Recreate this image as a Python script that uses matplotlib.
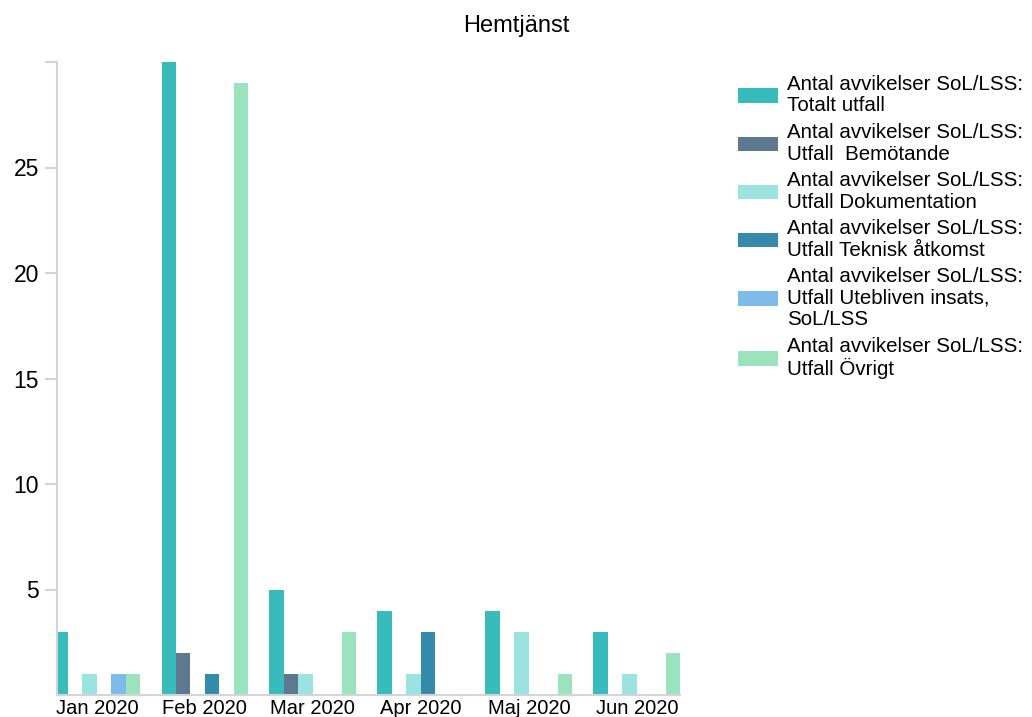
import numpy as np
import matplotlib
matplotlib.use("Agg")
import matplotlib.pyplot as plt

plt.rcParams['font.family'] = ['Liberation Sans', 'DejaVu Sans']

# ==================== DATA ====================
months = ["Jan 2020", "Feb 2020", "Mar 2020", "Apr 2020", "Maj 2020", "Jun 2020"]

totalt = [3, 30, 5, 4, 4, 3]
bemotande = [0, 2, 1, 0, 0, 0]
dokumentation = [1, 0, 1, 1, 3, 1]
teknisk = [0, 1, 0, 3, 0, 0]
utebliven = [1, 0, 0, 0, 0, 0]
ovrigt = [1, 29, 3, 0, 1, 2]

labels = [
    "Antal avvikelser SoL/LSS:\nTotalt utfall",
    "Antal avvikelser SoL/LSS:\nUtfall  Bemötande",
    "Antal avvikelser SoL/LSS:\nUtfall Dokumentation",
    "Antal avvikelser SoL/LSS:\nUtfall Teknisk åtkomst",
    "Antal avvikelser SoL/LSS:\nUtfall Utebliven insats,\nSoL/LSS",
    "Antal avvikelser SoL/LSS:\nUtfall Övrigt",
]
colors = ["#37BBBB", "#5E788F", "#9BE3DE", "#348AAA", "#7FBBE8", "#9AE3BE"]

series = [totalt, bemotande, dokumentation, teknisk, utebliven, ovrigt]

# ==================== PLOT ====================
fig = plt.figure(figsize=(10.32, 7.17), dpi=100)
ax = fig.add_axes([57 / 1032, 1 - 695 / 717, (680 - 57) / 1032, (695 - 62) / 717])

x = np.arange(len(months))
w = 0.134
for i, (vals, lab, col) in enumerate(zip(series, labels, colors)):
    ax.bar(x + (i - 2.5) * w, vals, w, color=col, label=lab, linewidth=0)

ax.set_xlim(-0.37, 5.4)
ax.set_ylim(0, 30)
ax.set_yticks([5, 10, 15, 20, 25, 30])
ax.set_yticklabels(["5", "10", "15", "20", "25", ""])
ax.set_xticks(x)
ax.set_xticklabels(months)

for s in ["top", "right"]:
    ax.spines[s].set_visible(False)
for s in ["left", "bottom"]:
    ax.spines[s].set_color("#D4D4D4")
    ax.spines[s].set_linewidth(1.5)

ax.tick_params(axis="y", length=9, width=1.5, color="#D4D4D4", labelsize=16.5, pad=4)
ax.tick_params(axis="x", length=0, labelsize=14.5, pad=3)

fig.text(0.5, 1 - 26 / 717, "Hemtjänst", ha="center", va="center", fontsize=17)

leg = fig.legend(loc="upper left", bbox_to_anchor=(730 / 1032, 1 - 67 / 717),
                 frameon=False, fontsize=14.8, handlelength=1.95, handleheight=0.7,
                 handletextpad=0.44, labelspacing=0.38, borderaxespad=0)
for t in leg.get_texts():
    t.set_linespacing(1.15)

plt.savefig("out.png", dpi=100)
